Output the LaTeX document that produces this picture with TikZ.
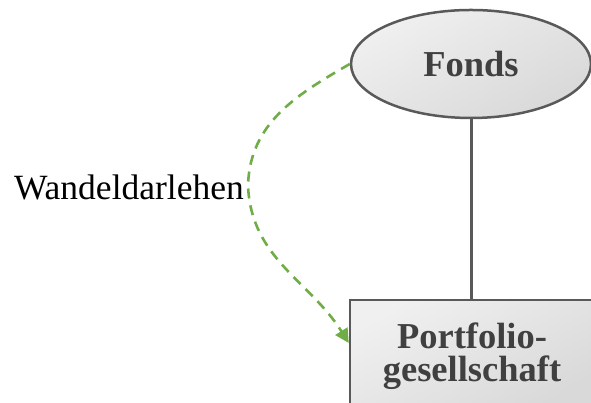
\documentclass[tikz,border=0pt]{standalone}
\usepackage{fontspec}
\setmainfont{Liberation Serif}
\usetikzlibrary{shapes.geometric,arrows.meta,shadings}
\definecolor{edgegray}{HTML}{595959}
\definecolor{textgray}{HTML}{404040}
\definecolor{loangreen}{HTML}{70AD47}
\tikzset{
  entity/.style={draw=edgegray, line width=2.5pt, top color=black!6, bottom color=black!15,
    shading angle=30, text=textgray, font=\fontsize{36.5}{33}\selectfont\bfseries,
    inner sep=0pt, align=center},
  link/.style={draw=edgegray, line width=3pt},
  loan/.style={draw=loangreen, line width=2.6pt, dash pattern=on 10pt off 7pt,
    -{Triangle[length=14pt,width=14pt,fill=loangreen]}},
  loanlabel/.style={font=\fontsize{35.5}{36}\selectfont, text=black, inner sep=0pt}
}
\begin{document}
\begin{tikzpicture}[x=1pt,y=1pt]
  \useasboundingbox (0,0) rectangle (591,403);
  \clip (0,0) rectangle (591,403);
  \node[entity, ellipse, minimum width=240pt, minimum height=108pt] (fonds) at (471,339) {Fonds};
  \node[entity, rectangle, minimum width=244pt, minimum height=112pt] (port) at (472,47) {Portfolio-\\gesellschaft};
  \draw[link] (fonds.south) -- (fonds.south |- port.north);
  \coordinate (bend) at (248,218);
  \draw[loan] (fonds.west) to[out=210,in=88] (bend) to[out=272,in=122] ([yshift=13pt]port.west);
  \node[loanlabel, anchor=east] (lbl) at (244,216) {Wandeldarlehen};
\end{tikzpicture}
\end{document}
